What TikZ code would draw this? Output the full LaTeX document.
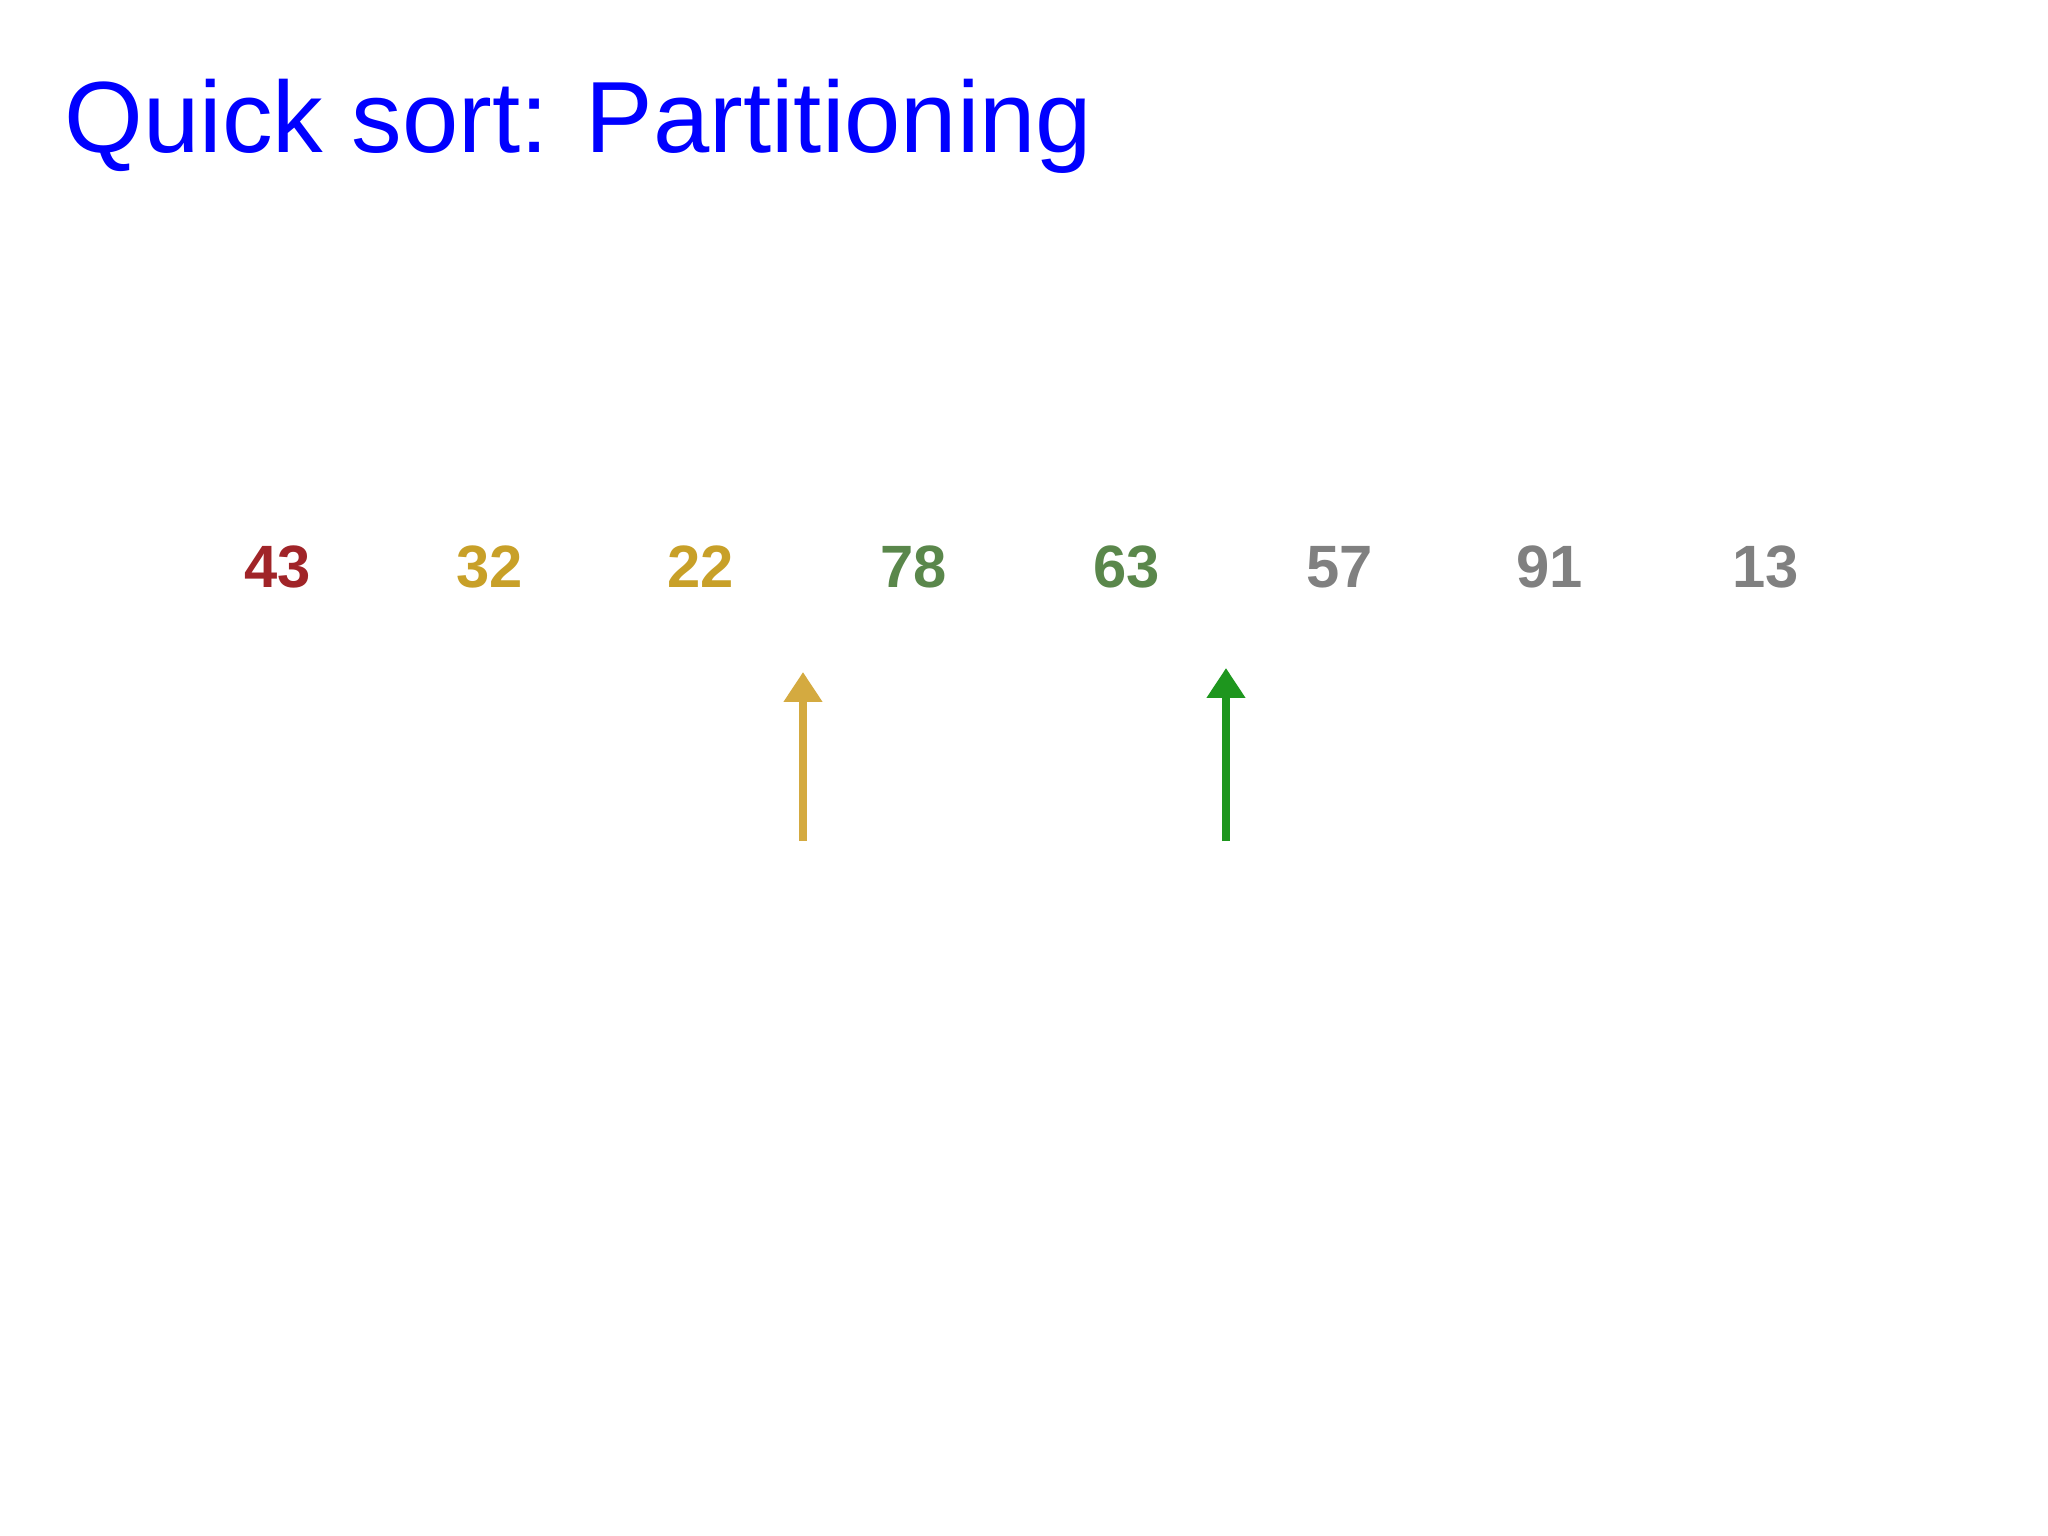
\documentclass[tikz,border=0pt]{standalone}
\usepackage{fontspec}
\setmainfont{Liberation Sans}
\usetikzlibrary{arrows.meta}
\usepackage{xcolor}

\definecolor{titleblue}{RGB}{0,0,255}
\definecolor{pivotred}{RGB}{160,36,40}
\definecolor{lowgold}{RGB}{200,160,40}
\definecolor{highgreen}{RGB}{90,135,75}
\definecolor{restgray}{RGB}{128,128,128}
\definecolor{lptrgold}{RGB}{212,170,64}
\definecolor{rptrgreen}{RGB}{30,150,30}

\tikzset{
  num/.style={anchor=base, inner sep=0pt, font=\fontsize{17}{17}\selectfont\bfseries},
  ptr/.style={line width=2.2pt, -{Triangle[width=10.5pt,length=8.5pt]}}
}

\begin{document}
\begin{tikzpicture}
            \useasboundingbox (0,0) rectangle (20.48,-15.36);
            \node[anchor=base west, inner sep=0pt, text=titleblue, font=\fontsize{28.8}{30}\selectfont] (title) at (0.64,-1.53) {Quick sort: Partitioning};

            \node[num, text=pivotred] (n1) at (2.78,-5.88) {43};
            \node[num, text=lowgold] (n2) at (4.90,-5.88) {32};
            \node[num, text=lowgold] (n3) at (7.01,-5.88) {22};
            \node[num, text=highgreen] (n4) at (9.14,-5.88) {78};
            \node[num, text=highgreen] (n5) at (11.27,-5.88) {63};
            \node[num, text=restgray] (n6) at (13.40,-5.88) {57};
            \node[num, text=restgray] (n7) at (15.50,-5.88) {91};
            \node[num, text=restgray] (n8) at (17.66,-5.88) {13};

            \coordinate (lbot) at (8.03,-8.41);
            \coordinate (ltop) at (8.03,-6.72);
            \coordinate (rbot) at (12.26,-8.41);
            \coordinate (rtop) at (12.26,-6.68);

            \draw[ptr, lptrgold] (lbot) -- (ltop);
            \draw[ptr, rptrgreen] (rbot) -- (rtop);
        \end{tikzpicture}
\end{document}
